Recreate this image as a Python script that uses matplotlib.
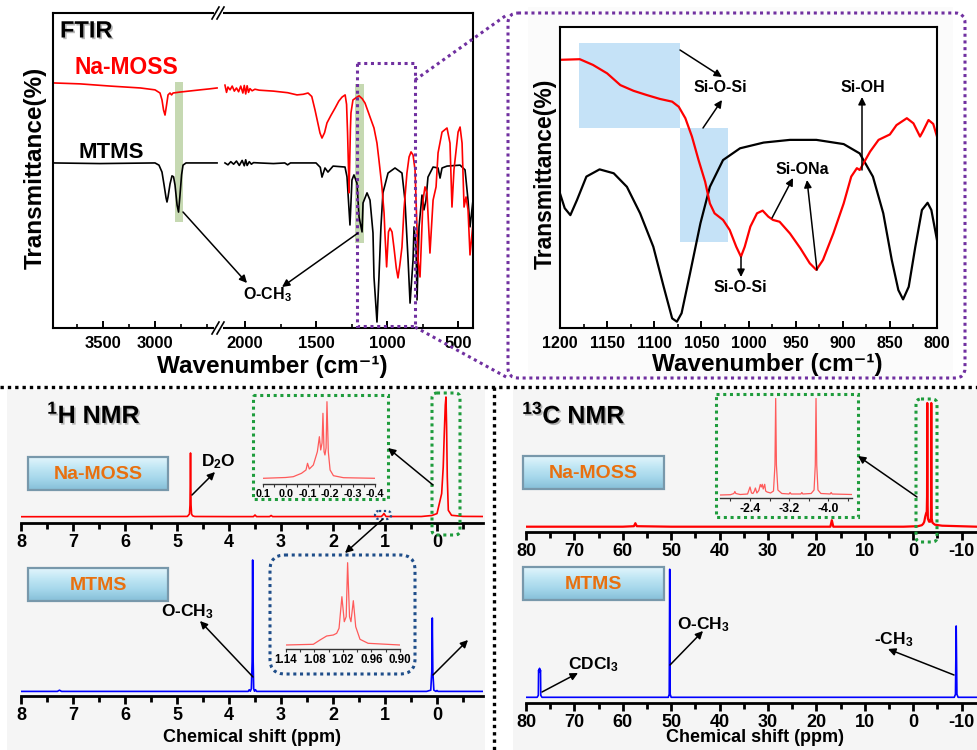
import numpy as np
import matplotlib.pyplot as plt
import matplotlib.patheffects as pe
from matplotlib.patches import Rectangle, FancyBboxPatch
from matplotlib.ticker import MultipleLocator
from matplotlib.colors import LinearSegmentedColormap

plt.rcParams['font.family'] = ['Liberation Sans', 'DejaVu Sans']
plt.rcParams['font.weight'] = 'bold'
plt.rcParams['mathtext.fontset'] = 'custom'
plt.rcParams['mathtext.rm'] = 'Liberation Sans:bold'
plt.rcParams['mathtext.it'] = 'Liberation Sans:bold'
plt.rcParams['mathtext.bf'] = 'Liberation Sans:bold'
plt.rcParams['axes.unicode_minus'] = False

# ---------------- FTIR data (transmittance, arbitrary units) ----------------
# 4000-2400 cm-1 segment
hi_wn_na = [3980, 3720, 3430, 3140, 3000, 2952, 2933, 2918, 2904, 2889, 2875, 2856, 2841, 2827, 2760, 2650, 2567, 2480, 2404]
hi_t_na = [77.8, 77.5, 76.8, 76.2, 75.6, 74.6, 72.4, 69.2, 67.6, 70.8, 74.0, 74.6, 74.0, 74.6, 74.9, 75.3, 75.6, 75.9, 76.2]
hi_wn_mt = [3980, 3530, 3000, 2962, 2933, 2913, 2894, 2885, 2875, 2856, 2837, 2822, 2808, 2788, 2774, 2760, 2745, 2731, 2702, 2404]
hi_t_mt = [52.4, 52.2, 52.4, 51.7, 49.5, 45.4, 41.3, 40.0, 41.6, 45.7, 48.3, 48.0, 45.4, 39.0, 36.8, 42.2, 48.6, 51.7, 52.4, 52.4]

# 2200-400 cm-1 segment
lo_wn_na = [2141, 2130, 2120, 2105, 2090, 2075, 2060, 2045, 2030, 2015,
            2005, 1995, 1985, 1975, 1965, 1950, 1930, 1900, 1800, 1700,
            1634, 1590, 1556, 1530, 1507, 1472, 1458, 1440, 1423, 1395,
            1366, 1340, 1317, 1295, 1285, 1278, 1271, 1268, 1264, 1258,
            1254, 1240, 1212, 1197, 1175, 1155, 1120, 1092, 1071, 1057,
            1036, 1021, 1015, 1003, 990, 979, 965, 950, 935, 923,
            910, 895, 881, 860, 845, 831, 817, 803, 782, 768,
            747, 733, 719, 698, 676, 655, 641, 613, 578, 557,
            543, 529, 500, 486, 472, 458, 444, 430, 416, 395]
lo_t_na = [77.1, 74.8, 76.5, 75.6, 76.8, 75.2, 76.2, 75.0, 76.8, 74.6,
           77.0, 74.3, 76.9, 74.8, 76.0, 75.3, 75.8, 75.5, 75.2, 74.7,
           74.0, 74.2, 74.6, 73.5, 69.2, 61.9, 60.3, 62.0, 65.1, 67.5,
           69.8, 72.0, 73.3, 74.0, 71.0, 62.0, 50.0, 42.9, 50.0, 63.0,
           68.3, 72.4, 73.3, 73.7, 72.8, 71.4, 67.0, 63.5, 58.7, 53.3,
           44.8, 36.5, 30.0, 19.4, 30.5, 31.7, 30.5, 25.0, 19.0, 15.9,
           20.0, 25.7, 37.5, 49.2, 54.3, 55.9, 54.9, 50.2, 21.6, 16.2,
           40.6, 44.8, 42.9, 23.8, 40.6, 44.8, 55.6, 62.2, 63.5, 58.7,
           38.4, 50.2, 62.2, 63.8, 58.7, 38.4, 41.6, 37.5, 23.2, 33.3]
lo_wn_mt = [2141, 2120, 2100, 2080, 2060, 2040, 2020, 2005, 1995, 1985,
            1970, 1955, 1940, 1900, 1800, 1720, 1700, 1680, 1600, 1500,
            1470, 1458, 1437, 1416, 1380, 1296, 1282, 1275, 1261, 1247,
            1233, 1212, 1197, 1176, 1169, 1141, 1120, 1099, 1092, 1071,
            1057, 1043, 1029, 993, 944, 895, 874, 852, 838, 817,
            810, 796, 789, 775, 754, 740, 726, 712, 676, 641,
            627, 613, 578, 486, 451, 430, 416, 395]
lo_t_mt = [52.4, 51.8, 52.8, 52.0, 53.0, 51.6, 53.2, 51.5, 53.4, 51.6,
           52.8, 52.0, 52.5, 52.4, 52.2, 52.4, 51.8, 52.4, 52.4, 52.4,
           51.0, 47.9, 50.8, 49.5, 51.4, 51.1, 48.0, 42.9, 32.7, 47.0,
           48.6, 46.0, 35.2, 30.5, 39.7, 42.9, 40.6, 30.2, 16.2, 1.9,
           16.2, 32.1, 42.9, 49.2, 50.8, 49.2, 40.6, 21.6, 7.9, 21.6,
           32.1, 25.7, 8.9, 32.1, 42.2, 37.5, 40.6, 47.9, 51.1, 50.8,
           47.6, 50.8, 51.4, 51.7, 50.2, 40.6, 32.1, 40.6]

# 1200-800 cm-1 zoom
in_wn_na = [1200, 1179, 1165, 1150, 1136, 1122, 1108, 1094, 1081, 1074,
            1067, 1060, 1053, 1046, 1041, 1036, 1027, 1020, 1013, 1008,
            1004, 998, 991, 985, 979, 974, 967, 956, 945, 935,
            928, 921, 910, 899, 891, 885, 882, 878, 871, 862,
            850, 843, 832, 825, 818, 815, 809, 804, 800]
in_t_na = [89.1, 89.3, 87.4, 84.6, 80.7, 78.8, 77.4, 76.1, 75.2, 73.5,
           69.7, 63.6, 55.8, 48.6, 41.4, 38.1, 35.9, 32.6, 27.0, 23.7,
           27.0, 33.7, 38.1, 39.0, 37.0, 35.9, 35.3, 31.4, 26.5, 21.5,
           19.3, 22.6, 31.4, 41.4, 50.3, 53.1, 52.5, 54.7, 58.6, 62.5,
           64.3, 67.4, 69.7, 68.0, 63.6, 65.3, 69.1, 67.8, 63.6]
in_wn_mt = [1200, 1195, 1189, 1182, 1172, 1158, 1143, 1129, 1115, 1101,
            1090, 1081, 1076, 1071, 1062, 1051, 1041, 1027, 1009, 984,
            956, 928, 899, 882, 868, 857, 848, 841, 836, 830,
            823, 816, 810, 806, 800]
in_t_mt = [44.7, 39.8, 37.5, 42.5, 50.3, 52.7, 51.4, 46.9, 38.1, 27.0,
           13.7, 3.2, 2.1, 4.9, 18.2, 34.8, 46.9, 55.8, 59.7, 61.6,
           62.5, 62.5, 61.1, 58.0, 50.3, 38.1, 22.6, 12.6, 9.5, 13.7,
           27.0, 39.2, 41.6, 39.2, 29.2]

# ---------------- 1H NMR ----------------
h1_na_ppm = [8.0, 6.0, 4.80, 4.76, 4.75, 4.74, 4.73, 4.72, 4.70, 4.66,
             4.0, 3.53, 3.50, 3.47, 3.22, 3.19, 3.16, 1.07, 1.04, 1.02,
             1.00, 0.98, 0.95, 0.30, 0.10, 0.0, -0.06, -0.09, -0.12, -0.14,
             -0.16, -0.173, -0.185, -0.198, -0.218, -0.28, -0.5, -0.885]
h1_na_int = [0.3, 0.3, 0.6, 3.0, 12.0, 64.0, 12.0, 3.0, 1.2, 0.5,
             0.4, 0.4, 2.0, 0.4, 0.4, 1.5, 0.4, 0.5, 2.0, 3.5,
             2.0, 0.5, 0.5, 0.5, 1.5, 3.4, 16.7, 23.4, 50.0, 83.0,
             112.0, 120.0, 90.0, 40.0, 6.7, 1.7, 0.6, 0.5]
h1_mt_ppm = [8.0, 7.30, 7.26, 7.22, 3.70, 3.63, 3.61, 3.59, 3.57, 3.555,
             3.545, 3.535, 3.525, 3.51, 3.49, 3.47, 3.45, 3.30, 0.20, 0.12,
             0.10, 0.09, 0.08, 0.06, 0.02, 0.0, -0.02, -0.885]
h1_mt_int = [0.3, 0.3, 1.5, 0.3, 0.3, 0.3, 2.0, 0.5, 3.0, 30.0,
             131.7, 30.0, 3.0, 0.5, 2.0, 0.3, 0.3, 0.3, 0.3, 1.5,
             20.0, 73.7, 20.0, 1.5, 0.3, 1.2, 0.3, 0.3]
# insets
ins1_ppm = [0.1, 0.0, -0.034, -0.071, -0.091, -0.098, -0.106, -0.124, -0.142, -0.151, -0.157,
            -0.163, -0.167, -0.172, -0.176, -0.181, -0.185, -0.191, -0.199, -0.214, -0.259, -0.4]
ins1_int = [0, 0.8, 1.6, 5.0, 8.3, 15.0, 9.3, 13.3, 26.6, 41.6, 28.3,
            35.3, 65.0, 26.6, 23.3, 30.3, 76.6, 26.6, 8.3, 2.6, 0.6, 0]
ins2_ppm = [1.14, 1.082, 1.068, 1.054, 1.040, 1.033, 1.028, 1.022, 1.017,
            1.013, 1.010, 1.006, 1.003, 0.998, 0.993, 0.984, 0.967, 0.90]
ins2_int = [0, 0.7, 5.0, 9.0, 10.0, 11.7, 16.7, 48.3, 23.3,
            28.3, 82.3, 28.3, 23.3, 44.3, 18.3, 5.7, 1.7, 0]

# ---------------- 13C NMR ----------------
c13_na_ppm = [80, 70, 60, 57.7, 57.4, 57.1, 50, 40, 30, 20,
              17.1, 16.8, 16.5, 10, 2.0, -1.0, -1.8, -2.1, -2.3, -2.5,
              -2.7, -2.82, -2.88, -2.925, -2.97, -3.05, -3.3, -3.55, -3.68, -3.72,
              -3.75, -3.78, -3.85, -4.0, -4.5, -6.0, -13.2]
c13_na_int = [0, 0, 0, 0.5, 3.5, 0.5, 0, 0, 0, 0,
              0, 6.5, 0, 0, 0, 0.5, 1.5, 3.0, 5.0, 10.0,
              13.7, 15.0, 30.0, 123.7, 30.0, 8.0, 5.0, 5.0, 10.0, 30.0,
              123.7, 30.0, 8.0, 4.0, 2.0, 1.0, 0]
c13_mt_ppm = [80, 77.7, 77.45, 77.4, 77.3, 77.2, 77.1, 77.0, 76.95, 76.7,
              60, 50.6, 50.4, 50.3, 50.2, 50.0, 30, -8.5, -8.75, -8.9,
              -9.05, -9.3, -13.2]
c13_mt_int = [0, 0, 2, 27, 25, 29, 25, 27, 2, 0,
              0, 0, 3, 128, 3, 0, 0, 0, 3, 71.3,
              3, 0, 0]
ins3_ppm = [-1.79, -2.0, -2.07, -2.09, -2.11, -2.2, -2.35, -2.40, -2.43, -2.46,
            -2.49, -2.51, -2.54, -2.58, -2.61, -2.63, -2.65, -2.67, -2.70, -2.72,
            -2.75, -2.82, -2.88, -2.91, -2.925, -2.94, -2.97, -3.05, -3.20, -3.22,
            -3.24, -3.44, -3.46, -3.48, -3.65, -3.71, -3.735, -3.75, -3.765, -3.79,
            -3.85, -4.04, -4.06, -4.08, -4.48]
ins3_int = [0, 0.3, 1.5, 3.5, 1.5, 0.5, 1.0, 8.0, 2.0, 1.5,
            4.0, 7.0, 2.0, 4.5, 10.5, 8.0, 10.7, 6.0, 10.7, 4.0,
            3.0, 2.0, 4.0, 30.0, 96.7, 30.0, 5.0, 1.5, 1.0, 2.5,
            1.0, 1.0, 2.5, 1.0, 1.5, 5.0, 30.0, 96.7, 30.0, 5.0,
            1.5, 1.0, 2.5, 1.0, 0.5]

W, H = 977, 750
RED, BLUE, LRED = '#ff0000', '#0000ff', '#ff5a5a'
PURPLE, GREEN, NAVY = '#7030a0', '#1e9c3c', '#1f4e8a'
ORANGE = '#e8700f'
DOT = (0, (1, 1.2))


def rect(x0, y0, x1, y1):
    # pixel box -> figure fraction
    return [x0 / W, 1 - y1 / H, (x1 - x0) / W, (y1 - y0) / H]


fig = plt.figure(figsize=(W / 100, H / 100), dpi=100)

# background panels
bg = fig.add_axes([0, 0, 1, 1], zorder=0)
bg.axis('off')
bg.set_xlim(0, W)
bg.set_ylim(H, 0)
bg.add_patch(Rectangle((7, 390), 478, 360, color='#f5f5f5', lw=0))
bg.add_patch(Rectangle((513, 390), 464, 360, color='#f5f5f5', lw=0))
bg.add_patch(Rectangle((528, 7), 425, 371, color='#fbfbfb', lw=0))

# ---------------- FTIR main (broken axis) ----------------
ax1 = fig.add_axes(rect(53, 13, 218, 328), zorder=2)
ax2 = fig.add_axes(rect(218, 13, 473, 328), zorder=2)
ax1.plot(hi_wn_mt, hi_t_mt, color='black', lw=1.2)
ax1.plot(hi_wn_na, hi_t_na, color=RED, lw=1.2)
ax2.plot(lo_wn_mt, lo_t_mt, color='black', lw=1.2)
ax2.plot(lo_wn_na, lo_t_na, color=RED, lw=1.2)
ax1.add_patch(Rectangle((2731, 33.7), 77, 44.4, color='#c6d9b2', lw=0, zorder=0))
ax2.add_patch(Rectangle((1162, 27.0), 64, 50.5, color='#c6d9b2', lw=0, zorder=0))
ax1.set_xlim(3980, 2395)
ax2.set_xlim(2190, 395)
ax1.set_xticks([3500, 3000])
ax2.set_xticks([2000, 1500, 1000, 500])
for a in (ax1, ax2):
    a.set_ylim(0, 100)
    a.set_yticks([])
    a.xaxis.set_minor_locator(MultipleLocator(250))
    a.tick_params(axis='x', which='major', direction='in', length=5, width=1.4, labelsize=12, pad=6)
    a.tick_params(axis='x', which='minor', direction='in', length=3, width=1.2)
    for s in a.spines.values():
        s.set_linewidth(1.5)
ax1.spines['right'].set_visible(False)
ax2.spines['left'].set_visible(False)

# ---------------- FTIR zoom ----------------
ax3 = fig.add_axes(rect(560, 27, 937, 328), zorder=2)
ax3.add_patch(Rectangle((1073, 66.4), 107, 28.3, color='#c5e2f7', lw=0, zorder=0))
ax3.add_patch(Rectangle((1022, 28.6), 51, 37.8, color='#c5e2f7', lw=0, zorder=0))
ax3.plot(in_wn_mt, in_t_mt, color='black', lw=1.6)
ax3.plot(in_wn_na, in_t_na, color=RED, lw=1.6)
ax3.set_xlim(1200, 800)
ax3.set_ylim(0, 100)
ax3.set_yticks([])
ax3.set_xticks(range(800, 1201, 50))
ax3.xaxis.set_minor_locator(MultipleLocator(25))
ax3.tick_params(axis='x', which='major', direction='in', length=5, width=1.4, labelsize=11.5, pad=6)
ax3.tick_params(axis='x', which='minor', direction='in', length=3, width=1.2)
for s in ax3.spines.values():
    s.set_linewidth(1.5)


# ---------------- NMR axes ----------------
def nmr_axes(box, xlim, ylim, major, minor):
    ax = fig.add_axes(rect(*box), zorder=2)
    ax.set_facecolor('none')
    for s in ('left', 'right', 'top'):
        ax.spines[s].set_visible(False)
    ax.spines['bottom'].set_linewidth(2)
    ax.set_xlim(xlim)
    ax.set_ylim(ylim)
    ax.set_yticks([])
    ax.xaxis.set_major_locator(MultipleLocator(major))
    ax.xaxis.set_minor_locator(MultipleLocator(minor))
    ax.tick_params(axis='x', which='major', direction='out', length=6, width=2, labelsize=13, pad=2)
    ax.tick_params(axis='x', which='minor', direction='out', length=4, width=2)
    return ax


h1a = nmr_axes((21, 390, 483, 523), (8, -0.885), (-6, 127), 1, 0.5)
h1a.plot(h1_na_ppm, h1_na_int, color=RED, lw=1.2)
h1b = nmr_axes((21, 555, 483, 696), (8, -0.885), (-4.3, 136.7), 1, 0.5)
h1b.plot(h1_mt_ppm, h1_mt_int, color=BLUE, lw=1.2)
c1a = nmr_axes((526, 395, 977, 532), (80, -13.2), (-5.3, 131.7), 10, 5)
c1a.plot(c13_na_ppm, c13_na_int, color=RED, lw=1.6)
c1b = nmr_axes((526, 560, 977, 703.3), (80, -13.2), (-6, 137.3), 10, 5)
c1b.plot(c13_mt_ppm, c13_mt_int, color=BLUE, lw=1.2)


def inset(box, xlim, ylim, ticks, labels, minor, x, y, fs):
    ax = fig.add_axes(rect(*box), zorder=3)
    ax.set_facecolor('none')
    for s in ('left', 'right', 'top'):
        ax.spines[s].set_visible(False)
    ax.spines['bottom'].set_linewidth(1)
    ax.spines['bottom'].set_color('#333333')
    ax.plot(x, y, color=LRED, lw=0.9)
    ax.set_xlim(xlim)
    ax.set_ylim(ylim)
    ax.set_yticks([])
    ax.set_xticks(ticks)
    ax.set_xticklabels(labels)
    ax.xaxis.set_minor_locator(MultipleLocator(minor))
    ax.tick_params(axis='x', which='both', direction='out', length=2.5, width=0.8,
                   labelsize=fs, pad=1, color='#333333')
    return ax


inset((263.3, 398, 375, 484), (0.1, -0.4), (-5.7, 80.3),
      [0.1, 0.0, -0.1, -0.2, -0.3, -0.4], ['0.1', '0.0', '-0.1', '-0.2', '-0.3', '-0.4'],
      0.05, ins1_ppm, ins1_int, 7.8)
inset((285.7, 560, 400, 649.3), (1.14, 0.90), (-4.3, 85),
      [1.14, 1.08, 1.02, 0.96, 0.90], ['1.14', '1.08', '1.02', '0.96', '0.90'],
      0.03, ins2_ppm, ins2_int, 8.3)
inset((720, 398, 852, 498.3), (-1.786, -4.486), (-3.3, 97),
      [-2.4, -3.2, -4.0], ['-2.4', '-3.2', '-4.0'], 0.4, ins3_ppm, ins3_int, 8.8)

# ---------------- overlay: frames, arrows, labels ----------------
ov = fig.add_axes([0, 0, 1, 1], zorder=10)
ov.patch.set_visible(False)
ov.axis('off')


def dline(xs, ys, color, lw=2.2):
    ov.plot(xs, ys, color=color, lw=lw, ls=DOT, dash_capstyle='butt')


def dbox(x0, y0, x1, y1, color, r=0.0, lw=2.2):
    style = 'round,pad=0,rounding_size=%g' % r if r else 'square,pad=0'
    ov.add_patch(FancyBboxPatch((x0, y0), x1 - x0, y1 - y0, boxstyle=style, fill=False,
                                ec=color, lw=lw, ls=DOT))


def arrow(tail, head):
    ov.annotate('', xy=head, xytext=tail,
                arrowprops=dict(arrowstyle='-|>', color='black', lw=1.1,
                                mutation_scale=11, shrinkA=0, shrinkB=0))


shadow = [pe.SimplePatchShadow(offset=(1.2, -1.2), shadow_rgbFace='#888888', alpha=0.6), pe.Normal()]

# separators
dline([0, W], [387, 387], 'black', lw=2.4)
dline([494, 494], [387, H], 'black', lw=2.4)

# FTIR decorations
for yb in (13, 328):
    ov.add_patch(Rectangle((214, yb - 3), 9, 6, color='white', lw=0, zorder=3))
    for dx in (0, 5):
        ov.plot([212 + dx, 219 + dx], [yb + 6, yb - 6], color='black', lw=1.2, zorder=4)
dbox(357, 63, 415, 326, PURPLE)
dline([415, 508], [80, 14], PURPLE)
dline([415, 508], [327, 378], PURPLE)
dbox(508, 13, 965, 378, PURPLE, r=10)

ov.text(60, 31, 'FTIR', fontsize=17, va='center', path_effects=shadow)
ov.text(75, 67, 'Na-MOSS', fontsize=16.5, color=RED, va='center')
ov.text(78, 153, 'MTMS', fontsize=16, va='center')
ov.text(267, 295, 'O-CH$_3$', fontsize=11.5, ha='center', va='center')
arrow((183, 212), (247, 283))
arrow((358, 233), (282, 287))
ov.text(35, 168, 'Transmittance(%)', fontsize=17.5, rotation=90, ha='center', va='center')
ov.text(272, 366, 'Wavenumber (cm⁻¹)', fontsize=17.5, ha='center', va='center')

ov.text(545, 174, 'Transmittance(%)', fontsize=16.5, rotation=90, ha='center', va='center')
ov.text(767, 364, 'Wavenumber (cm⁻¹)', fontsize=17.5, ha='center', va='center')
ov.text(720, 88, 'Si-O-Si', fontsize=11.5, ha='center', va='center')
ov.text(863, 88, 'Si-OH', fontsize=11.5, ha='center', va='center')
ov.text(802, 170, 'Si-ONa', fontsize=11.5, ha='center', va='center')
ov.text(740, 288, 'Si-O-Si', fontsize=11.5, ha='center', va='center')
arrow((680, 50), (722, 77))
arrow((703, 128), (722, 100))
arrow((862, 170), (862, 97))
arrow((772, 218), (793, 178))
arrow((817, 270), (807, 180))
arrow((741, 257), (741, 277))

# sample tags
tile = LinearSegmentedColormap.from_list('tile', ['#e2f5fc', '#bfe6f4', '#a4d6ea', '#86bfd8'])


def tag(x0, y0, x1, y1, text):
    grad = np.linspace(0, 1, 60).reshape(-1, 1)
    ov.imshow(grad, extent=(x0, x1, y1, y0), cmap=tile, aspect='auto', zorder=1)
    ov.add_patch(Rectangle((x0, y0), x1 - x0, y1 - y0, fill=False, ec='#7898ab', lw=1.6, zorder=2))
    ov.text((x0 + x1) / 2, (y0 + y1) / 2 + 1, text, color=ORANGE, fontsize=14,
            ha='center', va='center', zorder=3)


tag(28, 457, 168, 490, 'Na-MOSS')
tag(28, 568, 168, 601, 'MTMS')
tag(523, 456, 664, 489, 'Na-MOSS')
tag(523, 567, 664, 600, 'MTMS')

# 1H NMR decorations
ov.text(47, 415, '$^{1}$H NMR', fontsize=18, va='center', path_effects=shadow)
ov.text(218, 462, 'D$_2$O', fontsize=12.5, ha='center', va='center')
arrow((192, 495), (215, 472))
dbox(253, 395, 388, 499, GREEN)
dbox(432, 393, 460, 535, GREEN, r=5)
arrow((433, 485), (388, 448))
dbox(375, 511, 391, 519, NAVY, r=4, lw=1.6)
arrow((383, 519), (345, 553))
dbox(270, 555, 415, 674, NAVY, r=15)
ov.text(187, 612, 'O-CH$_3$', fontsize=12.5, ha='center', va='center')
arrow((253, 677), (200, 621))
arrow((433, 675), (468, 640))
ov.text(252, 738, 'Chemical shift (ppm)', fontsize=13, ha='center', va='center')

# 13C NMR decorations
ov.text(522, 415, '$^{13}$C NMR', fontsize=18, va='center', path_effects=shadow)
dbox(716, 394, 858, 517, GREEN)
dbox(916, 399, 937, 542, GREEN, r=5)
arrow((917, 497), (858, 456))
ov.text(593, 665, 'CDCl$_3$', fontsize=12.5, ha='center', va='center')
arrow((542, 692), (578, 673))
ov.text(703, 625, 'O-CH$_3$', fontsize=12.5, ha='center', va='center')
arrow((670, 665), (703, 631))
ov.text(894, 640, '-CH$_3$', fontsize=12.5, ha='center', va='center')
arrow((954, 675), (888, 649))
ov.text(755, 738, 'Chemical shift (ppm)', fontsize=13, ha='center', va='center')

ov.set_xlim(0, W)
ov.set_ylim(H, 0)

fig.savefig('out.png', dpi=100)
